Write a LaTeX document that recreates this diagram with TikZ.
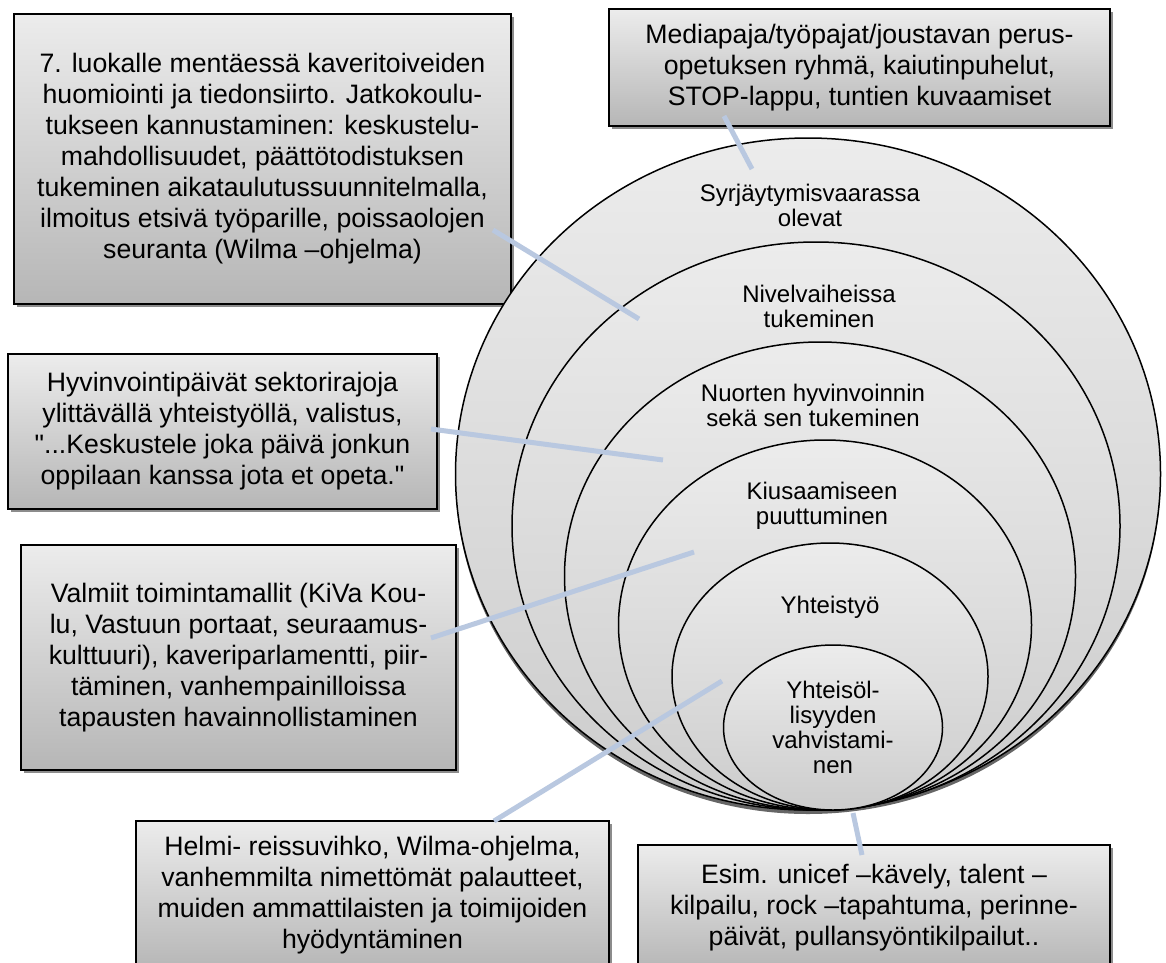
\documentclass[tikz,border=0pt]{standalone}
\usepackage{fontspec}
\setmainfont{Liberation Sans}[Ligatures=TeXOff]
\usetikzlibrary{shapes.geometric,shadows,positioning}
\definecolor{boxtop}{RGB}{236,236,236}
\definecolor{boxbot}{RGB}{182,182,182}
\definecolor{ringtop}{RGB}{236,236,236}
\definecolor{ringbot}{RGB}{204,204,204}
\definecolor{linkblue}{RGB}{185,200,224}

\begin{document}
\begin{tikzpicture}[x=0.6pt,y=-0.6pt,
  infobox/.style={rectangle,draw=black,line width=1.2pt,inner sep=0pt,align=center,
    top color=boxtop,bottom color=boxbot,
    drop shadow={shadow xshift=1.8pt,shadow yshift=-1.8pt,fill=black!45,opacity=1},
    font=\fontsize{16}{18.6}\selectfont},
  ring/.style={ellipse,draw=black,line width=0.9pt,inner sep=0pt,
    top color=ringtop,bottom color=ringbot},
  ringtext/.style={align=center,inner sep=0pt,font=\fontsize{14.4}{15}\selectfont},
  link/.style={draw=linkblue,line width=3pt}]
\useasboundingbox (0,0) rectangle (1166,962);

\node [infobox,minimum width=298.2pt,minimum height=174pt] (kaveri) at (262.5,159)
  {7. luokalle mentäessä kaveritoiveiden\\huomiointi ja tiedonsiirto. Jatkokoulu-\\tukseen kannustaminen: keskustelu-\\mahdollisuudet, päättötodistuksen\\tukeminen aikataulutussuunnitelmalla,\\ilmoitus etsivä työparille, poissaolojen\\seuranta (Wilma –ohjelma)};
\node [infobox,minimum width=300.6pt,minimum height=70.2pt] (media) at (859.5,67.5)
  {Mediapaja/työpajat/joustavan perus-\\opetuksen ryhmä, kaiutinpuhelut,\\STOP-lappu, tuntien kuvaamiset};
\node [infobox,minimum width=257.4pt,minimum height=93pt] (hyvinvointi) at (222.5,431.5)
  {Hyvinvointipäivät sektorirajoja\\ylittävällä yhteistyöllä, valistus,\\"...Keskustele joka päivä jonkun\\oppilaan kanssa jota et opeta."};
\node [infobox,minimum width=261pt,minimum height=135pt] (mallit) at (238.5,657.5)
  {Valmiit toimintamallit (KiVa Kou-\\lu, Vastuun portaat, seuraamus-\\kulttuuri), kaveriparlamentti, piir-\\täminen, vanhempainilloissa\\tapausten havainnollistaminen};
\node [infobox,minimum width=283.8pt,minimum height=89.4pt] (helmi) at (372.5,895.5)
  {Helmi- reissuvihko, Wilma-ohjelma,\\vanhemmilta nimettömät palautteet,\\muiden ammattilaisten ja toimijoiden\\hyödyntäminen};
\node [infobox,minimum width=283.2pt,minimum height=75pt] (tapahtumat) at (874,907.5)
  {Esim. unicef –kävely, talent –\\kilpailu, rock –tapahtuma, perinne-\\päivät, pullansyöntikilpailut..};

\node [ring,minimum width=423pt,minimum height=403.2pt,
  drop shadow={shadow xshift=0pt,shadow yshift=-2.4pt,fill=black,opacity=0.6}] (syrja) at (808,474) {};
\node [ring,minimum width=364.8pt,minimum height=340.8pt] (nivel) at (816,526) {};
\node [ring,minimum width=306.6pt,minimum height=280.8pt] (nuoret) at (820,576) {};
\node [ring,minimum width=247.8pt,minimum height=222pt] (kiusa) at (825,625) {};
\node [ring,minimum width=189.6pt,minimum height=160.2pt] (yhteis) at (830,676.5) {};
\node [ring,minimum width=131.4pt,minimum height=99pt] (yhteiso) at (833,727.5) {};

\node [ringtext] (syrjatext) at (810,205) {Syrjäytymisvaarassa\\olevat};
\node [ringtext] (niveltext) at (819,306) {Nivelvaiheissa\\tukeminen};
\node [ringtext] (nuorettext) at (813,405) {Nuorten hyvinvoinnin\\sekä sen tukeminen};
\node [ringtext] (kiusatext) at (822,506) {Kiusaamiseen\\puuttuminen};
\node [ringtext] (yhteistext) at (830,607) {Yhteistyö};
\node [ringtext] (yhteisotext) at (833,727) {Yhteisöl-\\lisyyden\\vahvistami-\\nen};

\coordinate (kaveri-end) at (493,230);
\coordinate (syrja-end) at (639,319);
\coordinate (media-end) at (724,116);
\coordinate (top-end) at (752,169);
\coordinate (hyvin-end) at (431,429);
\coordinate (nuoret-end) at (663,460);
\coordinate (mallit-end) at (431,638);
\coordinate (kiusa-end) at (694,552);
\coordinate (helmi-end) at (494,821);
\coordinate (yhteis-end) at (722,681);
\coordinate (bottom-end) at (853,813);
\coordinate (tapahtumat-end) at (862,855);

\draw [link] (kaveri-end) -- (syrja-end);
\draw [link] (media-end) -- (top-end);
\draw [link] (hyvin-end) -- (nuoret-end);
\draw [link] (mallit-end) -- (kiusa-end);
\draw [link] (helmi-end) -- (yhteis-end);
\draw [link] (bottom-end) -- (tapahtumat-end);
\end{tikzpicture}
\end{document}
